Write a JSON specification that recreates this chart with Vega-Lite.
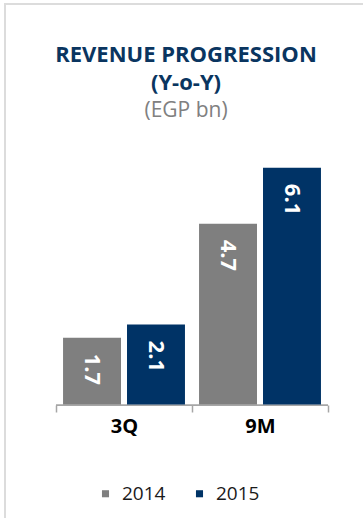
{
  "$schema": "https://vega.github.io/schema/vega-lite/v6.json",
  "autosize": "none",
  "padding": {"left": 5, "top": 4, "right": 0, "bottom": 0},
  "width": 362,
  "height": 518,
  "background": "white",
  "title": {
    "text": ["REVENUE PROGRESSION", "(Y-o-Y)"],
    "subtitle": "(EGP bn)",
    "anchor": "middle",
    "frame": "group",
    "offset": -118,
    "font": "Open Sans",
    "fontSize": 22,
    "fontWeight": "bold",
    "color": "#0a3560",
    "lineHeight": 28,
    "subtitleFont": "Open Sans",
    "subtitleFontSize": 21,
    "subtitleColor": "#808080",
    "subtitlePadding": 5
  },
  "data": {
    "values": [
      {"period": "3Q", "year": "2014", "value": 1.72},
      {"period": "3Q", "year": "2015", "value": 2.06},
      {"period": "9M", "year": "2014", "value": 4.66},
      {"period": "9M", "year": "2015", "value": 6.1}
    ]
  },
  "encoding": {
    "x": {
      "field": "period",
      "type": "nominal",
      "sort": ["3Q", "9M"],
      "scale": {"paddingInner": 0, "paddingOuter": 0.33088, "align": 0.5667},
      "axis": {
        "title": null,
        "domain": false,
        "tickColor": "#a6a6a6",
        "tickWidth": 1.5,
        "tickSize": 7,
        "tickBand": "extent",
        "labelFont": "Open Sans",
        "labelFontSize": 20,
        "labelFontWeight": "bold",
        "labelColor": "#000000",
        "labelPadding": 4,
        "labelAngle": 0,
        "offset": -117,
        "grid": false
      }
    },
    "y": {
      "field": "value",
      "type": "quantitative",
      "scale": {"domain": [-3.028, 10.322], "nice": false, "zero": false},
      "axis": null
    }
  },
  "layer": [
    {
      "mark": {"type": "bar", "color": "#a6a6a6"},
      "encoding": {
        "y": {"datum": 0},
        "y2": {"datum": -0.04}
      }
    },
    {
      "mark": {"type": "bar"},
      "encoding": {
        "xOffset": {
          "field": "year",
          "type": "nominal",
          "scale": {"paddingInner": 0.094, "paddingOuter": 0.11}
        },
        "y2": {"datum": 0},
        "color": {
          "field": "year",
          "type": "nominal",
          "scale": {"range": ["#7f7f7f", "#003366"]},
          "legend": {
            "title": null,
            "orient": "none",
            "legendX": 91,
            "legendY": 480,
            "direction": "horizontal",
            "symbolType": "square",
            "symbolSize": 50,
            "symbolStrokeWidth": 0,
            "labelFont": "Open Sans",
            "labelFontSize": 19,
            "labelColor": "#1a1a1a",
            "labelOffset": 7,
            "columnPadding": 24
          }
        }
      }
    },
    {
      "mark": {
        "type": "text",
        "angle": 90,
        "align": "left",
        "baseline": "middle",
        "dx": 16,
        "color": "white",
        "font": "Open Sans",
        "fontSize": 22,
        "fontWeight": "bold"
      },
      "encoding": {
        "xOffset": {
          "field": "year",
          "type": "nominal",
          "scale": {"paddingInner": 0.094, "paddingOuter": 0.11}
        },
        "text": {"field": "value", "type": "quantitative", "format": ".1f"}
      }
    }
  ],
  "config": {"view": {"stroke": "#dcdcdc", "strokeWidth": 2}}
}
